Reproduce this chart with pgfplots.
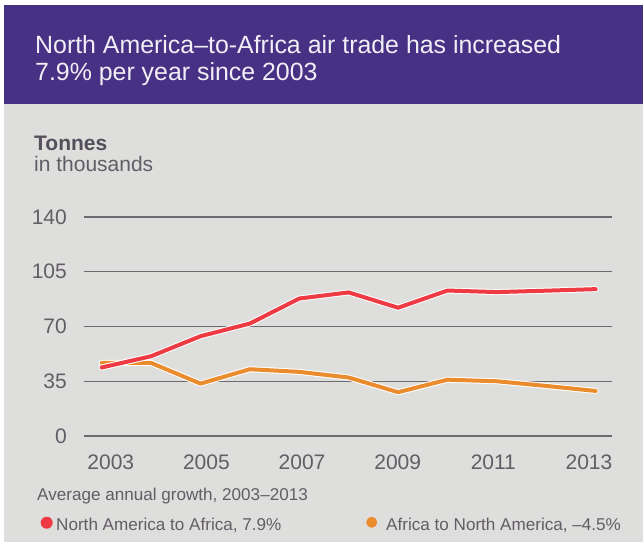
\documentclass[border=0pt]{standalone}
\usepackage{fontspec}
\setmainfont{Liberation Sans}
\usepackage{pgfplots}
\pgfplotsset{compat=1.18}
\definecolor{hdr}{RGB}{71,49,132}
\definecolor{bg}{RGB}{222,222,220}
\definecolor{gridc}{RGB}{110,106,112}
\definecolor{txt}{RGB}{98,93,102}
\definecolor{txtd}{RGB}{84,79,90}
\definecolor{redl}{RGB}{238,58,66}
\definecolor{orl}{RGB}{234,140,46}
\definecolor{ttl}{RGB}{240,238,246}

\pgfplotstableread{
year value
2003 43.8
2004 51.0
2005 63.8
2006 71.9
2007 87.9
2008 91.8
2009 82.0
2010 93.0
2011 92.0
2012 92.9
2013 93.9
}\nama

\pgfplotstableread{
year value
2003 46.7
2004 46.7
2005 33.5
2006 42.7
2007 41.0
2008 37.4
2009 28.0
2010 36.0
2011 35.0
2012 32.0
2013 28.8
}\afna

\begin{document}
\begin{tikzpicture}
\useasboundingbox (0pt,0pt) rectangle (643pt,-542pt);
\fill[white] (0pt,0pt) rectangle (643pt,-542pt);
\fill[bg] (4pt,-104pt) rectangle (643pt,-542pt);
\fill[hdr] (4pt,-5pt) rectangle (643pt,-104pt);
\node[anchor=base west, inner sep=0pt, text=ttl, font=\fontsize{24.9}{27}\selectfont] at (35pt,-53.3pt) {North America–to-Africa air trade has increased};
\node[anchor=base west, inner sep=0pt, text=ttl, font=\fontsize{24.9}{27}\selectfont] at (35pt,-80pt) {7.9\% per year since 2003};
\node[anchor=base west, inner sep=0pt, text=txtd, font=\bfseries\fontsize{21}{25}\selectfont] at (34pt,-150pt) {Tonnes};
\node[anchor=base west, inner sep=0pt, text=txt, font=\fontsize{21}{25}\selectfont] at (34pt,-171.7pt) {in thousands};

\begin{axis}[
  at={(84pt,-436pt)}, anchor=south west,
  scale only axis, width=528.3pt, height=219pt,
  xmin=2002.642, xmax=2013.336, ymin=0, ymax=140,
  ytick={0,35,70,105,140},
  xtick={2003.184,2005.120,2007.056,2008.992,2010.928,2012.864},
  xticklabels={2003,2005,2007,2009,2011,2013},
  axis line style={draw=none},
  ymajorgrids, grid style={draw=gridc, line width=1.2pt},
  major tick length=0pt,
  tick label style={font=\fontsize{21}{21}\selectfont, text=txt},
  yticklabel style={anchor=east, inner sep=0pt, xshift=-17pt},
  xticklabel style={anchor=north, inner sep=0pt, yshift=-19pt},
  /pgf/number format/assume math mode=true,
  clip=false,
]
\addplot[white, line width=6pt, line join=round, line cap=round] table[x=year,y=value] {\afna};
\addplot[orl, line width=4pt, line join=round, line cap=round] table[x=year,y=value] {\afna};
\addplot[white, line width=6pt, line join=round, line cap=round] table[x=year,y=value] {\nama};
\addplot[redl, line width=4pt, line join=round, line cap=round] table[x=year,y=value] {\nama};
\end{axis}

\node[anchor=base west, inner sep=0pt, text=txt, font=\fontsize{17.1}{18}\selectfont] at (37pt,-500.7pt) {Average annual growth, 2003–2013};
\fill[redl] (46.7pt,-522.7pt) circle (6pt);
\node[anchor=base west, inner sep=0pt, text=txt, font=\fontsize{17.1}{18}\selectfont] at (56pt,-530pt) {North America to Africa, 7.9\%};
\fill[orl] (371.7pt,-522.3pt) circle (5.5pt);
\node[anchor=base west, inner sep=0pt, text=txt, font=\fontsize{17.1}{18}\selectfont] at (386pt,-530pt) {Africa to North America, –4.5\%};
\end{tikzpicture}
\end{document}
